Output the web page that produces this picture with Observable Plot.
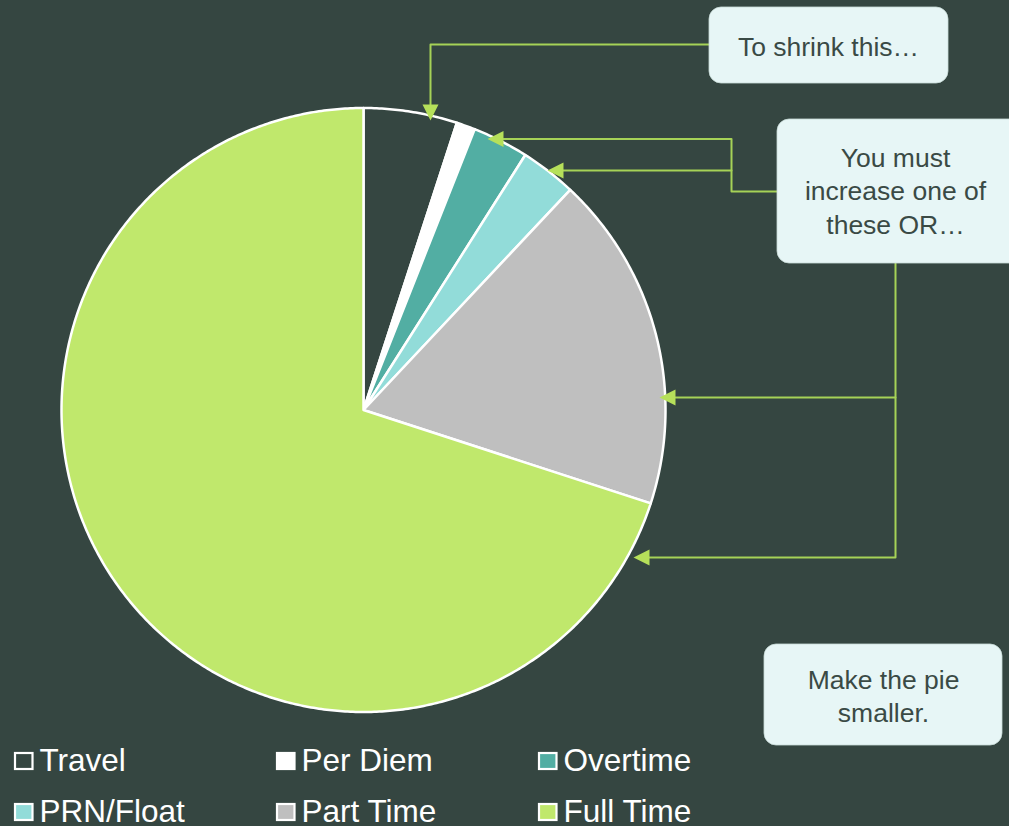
<!DOCTYPE html>
<html>
<head>
<meta charset="utf-8">
<script src="https://cdn.jsdelivr.net/npm/d3@7"></script>
<script src="https://cdn.jsdelivr.net/npm/@observablehq/plot@0.6"></script>
<style>
  html, body { margin: 0; padding: 0; background: #354641; }
  #chart svg { display: block; }
</style>
</head>
<body>
<div id="chart"></div>
<script>
// ---- data ----
const categories = ["Travel", "Per Diem", "Overtime", "PRN/Float", "Part Time", "Full Time"];
const values = [5, 1, 3, 3, 18, 70];
const sliceColors = ["#354641", "#ffffff", "#52aea3", "#92dcd9", "#bfbfbf", "#c0e86c"];
const noteTexts = ["To shrink this\u2026", "You must\nincrease one of\nthese OR\u2026", "Make the pie\nsmaller."];

// ---- layout ----
const W = 1009, H = 826;
const BG = "#354641";
const cx = 363, cy = 409.5, R = 302;
const lineColor = "#a6d257";
const arrowColor = "#b6e05a";
const boxFill = "#e7f6f6";
const boxText = "#3a4a45";
const font = "'Liberation Sans', Arial, sans-serif";

const arcs = d3.pie().sort(null).value(d => d.value)(
  categories.map((name, i) => ({name, value: values[i], color: sliceColors[i]}))
);

function slicePoints(a) {
  const pts = [{x: cx, y: cy}];
  const n = Math.max(2, Math.ceil((a.endAngle - a.startAngle) / (Math.PI / 360)));
  for (let k = 0; k <= n; k++) {
    const t = a.startAngle + (a.endAngle - a.startAngle) * k / n;
    pts.push({x: cx + R * Math.sin(t), y: cy - R * Math.cos(t)});
  }
  return pts;
}

function triangle(tx, ty, dir, len = 16, half = 8) {
  if (dir === "down") return [{x: tx, y: ty}, {x: tx - half, y: ty - len}, {x: tx + half, y: ty - len}];
  return [{x: tx, y: ty}, {x: tx + len, y: ty - half}, {x: tx + len, y: ty + half}];
}

const connectors = [
  [{x: 709, y: 44}, {x: 430, y: 44}, {x: 430, y: 104}],
  [{x: 777, y: 191}, {x: 731, y: 191}, {x: 731, y: 138.5}, {x: 503, y: 138.5}],
  [{x: 731, y: 170}, {x: 562, y: 170}],
  [{x: 895, y: 263}, {x: 895, y: 557}, {x: 649, y: 557}],
  [{x: 895, y: 397}, {x: 675, y: 397}]
];
const arrows = [
  triangle(430, 120, "down"),
  triangle(487, 138.5, "left"),
  triangle(547, 170, "left"),
  triangle(659, 397, "left"),
  triangle(633, 557, "left")
];

const boxes = [
  {x1: 709, x2: 948, y1: 7, y2: 83, tx: 828, ty: 55, text: noteTexts[0], lh: 1.25},
  {x1: 777, x2: 1025, y1: 119, y2: 263, tx: 895, ty: 233, text: noteTexts[1], lh: 1.25},
  {x1: 764, x2: 1002, y1: 644, y2: 745, tx: 883, ty: 721, text: noteTexts[2], lh: 1.21}
];

const legendItems = categories.map((name, i) => ({
  name,
  color: sliceColors[i],
  col: i % 3,
  row: Math.floor(i / 3)
}));
const colX = [14, 276, 538];
const rowY = [752, 803];

const marks = [];
arcs.forEach(a => {
  marks.push(Plot.line(slicePoints(a), {
    x: "x", y: "y", curve: "linear-closed",
    fill: a.data.color, stroke: "#ffffff", strokeWidth: 2.5, strokeLinejoin: "round"
  }));
});
connectors.forEach(c => marks.push(Plot.line(c, {x: "x", y: "y", stroke: lineColor, strokeWidth: 2})));
arrows.forEach(t => marks.push(Plot.line(t, {x: "x", y: "y", curve: "linear-closed", fill: arrowColor, stroke: "none"})));
marks.push(Plot.rect(boxes, {x1: "x1", x2: "x2", y1: "y1", y2: "y2", fill: boxFill, rx: 12, stroke: "#c9dcd8", strokeWidth: 0.8}));
boxes.forEach(b => marks.push(Plot.text([b], {
  x: "tx", y: "ty", text: "text", fill: boxText, fontSize: 26.5, lineAnchor: "bottom",
  lineHeight: b.lh, textAnchor: "middle", fontFamily: font
})));
marks.push(Plot.rect(legendItems, {
  x1: d => colX[d.col] + 1, x2: d => colX[d.col] + 18.5,
  y1: d => rowY[d.row] + 1, y2: d => rowY[d.row] + 17,
  fill: d => d.color, stroke: "#ffffff", strokeWidth: 2.2
}));
marks.push(Plot.text(legendItems, {
  x: d => colX[d.col] + 25, y: d => rowY[d.row] + 18, text: "name",
  fill: "#ffffff", fontSize: 31.5, textAnchor: "start", lineAnchor: "bottom", fontFamily: font
}));

const chart = Plot.plot({
  width: W, height: H, margin: 0,
  x: {domain: [0, W], range: [0, W], axis: null},
  y: {domain: [0, H], range: [0, H], axis: null},
  color: {type: "identity"},
  style: {background: BG, fontFamily: font, overflow: "hidden"},
  marks
});
document.getElementById("chart").appendChild(chart);
</script>
</body>
</html>
